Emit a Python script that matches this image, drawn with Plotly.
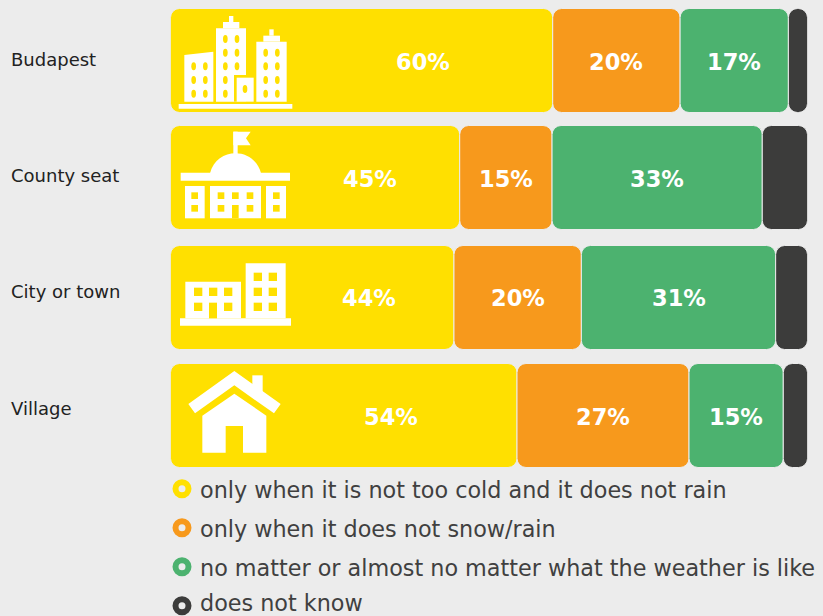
import plotly.graph_objects as go

categories = ["Budapest", "County seat", "City or town", "Village"]
series_names = [
    "only when it is not too cold and it does not rain",
    "only when it does not snow/rain",
    "no matter or almost no matter what the weather is like",
    "does not know",
]
cold_rain = [60, 45.4, 44.5, 54.4]
snow_rain = [20, 14.5, 20, 27]
any_weather = [17, 33, 30.5, 14.8]
unknown = [3, 7.1, 5, 3.8]
cold_rain_labels = ["60%", "45%", "44%", "54%"]
snow_rain_labels = ["20%", "15%", "20%", "27%"]
any_weather_labels = ["17%", "33%", "31%", "15%"]

BG = "#ececec"
COLORS = ["#ffe000", "#f7991c", "#4cb26f", "#3c3c3b"]
TEXT = "#404040"
W, H = 823, 616
VALUE_FONT = dict(family="DejaVu Sans", size=22.5, color="white", weight="bold")
LABEL_FONT = "DejaVu Sans"

# pixel layout of the rows (separate from the data)
ROW_PX = 118.33
BAR_PX = 104
row_nudge_px = [0, -1.33, 0.33, 0]
label_y_px = [59, 175, 291, 408]
yellow_shift_px = [61, 55, 57, 47]
value_yshift_px = [-1, 0, -1, -1]
legend_y_px = [488.7, 527.7, 566.7, 605.7]
legend_text_dy_px = [1, 1, 1, -3]

series = [cold_rain, snow_rain, any_weather, unknown]
labels = [cold_rain_labels, snow_rain_labels, any_weather_labels, None]
offsets = [(-BAR_PX / 2 + n) / ROW_PX for n in row_nudge_px]

fig = go.Figure()
base = [0, 0, 0, 0]
annotations = []
for idx, (name, vals, color, text) in enumerate(zip(series_names, series, COLORS, labels)):
    fig.add_bar(
        name=name, y=categories, x=vals, base=list(base), orientation="h",
        width=BAR_PX / ROW_PX, offset=offsets,
        marker=dict(color=color, cornerradius=9, line=dict(color=BG, width=1)),
        textposition="none", showlegend=False, hoverinfo="x+y+name",
    )
    if text:
        for k, cat in enumerate(categories):
            annotations.append(dict(
                x=base[k] + vals[k] / 2, y=cat, xref="x", yref="y", text=text[k], showarrow=False,
                xshift=yellow_shift_px[k] if idx == 0 else 0, yshift=value_yshift_px[k], font=VALUE_FONT,
            ))
    base = [b + v for b, v in zip(base, vals)]

# legend rings on a pixel overlay
for name, color, y in zip(series_names, COLORS, legend_y_px):
    fig.add_scatter(
        x=[182], y=[y], xaxis="x2", yaxis="y2", mode="markers", showlegend=False,
        marker=dict(size=13, color=BG, line=dict(color=color, width=6)), hoverinfo="skip",
    )

for cat, ly in zip(categories, label_y_px):
    annotations.append(dict(x=9, y=ly, xref="x2", yref="y2", text=cat, showarrow=False,
                            xanchor="left", font=dict(family=LABEL_FONT, size=18, color="#222222")))
for name, y, dy in zip(series_names, legend_y_px, legend_text_dy_px):
    annotations.append(dict(x=198, y=y + dy, xref="x2", yref="y2", text=name, showarrow=False,
                            xanchor="left", font=dict(family=LABEL_FONT, size=22.3, color=TEXT)))


# ---- white pictograms, drawn in zoom-crop units ----
shapes = []


def conv(ox, oy):
    return lambda x, y: (ox + x / 3, oy + y / 3)


def add_path(c, pts, fill="white"):
    p = [c(*q) for q in pts]
    d = "M " + " L ".join(f"{x:.2f},{y:.2f}" for x, y in p) + " Z"
    shapes.append(dict(type="path", path=d, xref="x2", yref="y2", fillcolor=fill,
                       line=dict(width=0), layer="above"))


def rect(c, x0, y0, x1, y1, fill="white"):
    add_path(c, [(x0, y0), (x1, y0), (x1, y1), (x0, y1)], fill)


def pill(c, xc, yc, w=14, h=24, fill=COLORS[0]):
    x0, y0 = c(xc - w / 2, yc - h / 2)
    x1, y1 = c(xc + w / 2, yc + h / 2)
    shapes.append(dict(type="circle", x0=x0, y0=y0, x1=x1, y1=y1, xref="x2", yref="y2",
                       fillcolor=fill, line=dict(width=0), layer="above"))


# Budapest skyline
c = conv(160, 0)
rect(c, 56, 312, 397, 326)
add_path(c, [(73, 165), (160, 155), (160, 305), (73, 305)])
rect(c, 168, 85, 258, 305)
rect(c, 189, 66, 238, 85)
rect(c, 207, 48, 220, 66)
rect(c, 289, 125, 380, 305)
rect(c, 310, 107, 360, 125)
rect(c, 328, 88, 341, 107)
rect(c, 222, 225, 288, 305, COLORS[0])
rect(c, 230, 233, 281, 305)
for xc in (101, 136):
    for yc in (199, 240, 281):
        pill(c, xc, yc)
for xc, yc in [(196, 117), (231, 117), (196, 158), (231, 158), (196, 199), (231, 199), (196, 240), (196, 281)]:
    pill(c, xc, yc)
for xc in (317, 352):
    for yc in (158, 199, 240, 281):
        pill(c, xc, yc)
pill(c, 255, 267)

# County seat hall
rect(c, 220, 395, 233, 470)
add_path(c, [(220, 395), (272, 395), (258, 415), (272, 436), (220, 436)])
p0, p1, p2, p3 = c(150, 520), c(170, 440), c(283, 440), c(303, 520)
shapes.append(dict(type="path", xref="x2", yref="y2", fillcolor="white", line=dict(width=0), layer="above",
                   path=f"M {p0[0]},{p0[1]} C {p1[0]},{p1[1]} {p2[0]},{p2[1]} {p3[0]},{p3[1]} Z"))
rect(c, 62, 518, 390, 542)
rect(c, 75, 558, 134, 655)
rect(c, 150, 558, 303, 655)
rect(c, 318, 558, 378, 655)
for x0 in (94, 173, 216, 260, 339):
    rect(c, x0, 577, x0 + 20, 597, COLORS[0])
for x0 in (94, 173, 260, 339):
    rect(c, x0, 615, x0 + 20, 635, COLORS[0])
rect(c, 216, 615, 236, 655, COLORS[0])

# City or town blocks
c = conv(160, 240)
rect(c, 60, 235, 393, 257)
rect(c, 76, 125, 243, 235)
rect(c, 257, 70, 377, 235)
for x0 in (102, 147, 192):
    rect(c, x0, 143, x0 + 25, 168, COLORS[0])
for x0 in (102, 192):
    rect(c, x0, 188, x0 + 25, 213, COLORS[0])
rect(c, 147, 188, 171, 235, COLORS[0])
for x0 in (281, 326):
    for y0 in (98, 143, 188):
        rect(c, x0, y0, x0 + 25, y0 + 25, COLORS[0])

# Village house
rect(c, 277, 406, 308, 470)
add_path(c, [(223, 393), (362, 492), (342, 520), (223, 436), (105, 520), (85, 492)])
add_path(c, [(127, 527), (223, 461), (319, 527), (319, 638), (249, 638), (249, 558),
             (197, 558), (197, 638), (127, 638)])

fig.update_layout(
    width=W, height=H, margin=dict(l=0, r=0, t=0, b=0),
    paper_bgcolor=BG, plot_bgcolor="rgba(0,0,0,0)", barmode="overlay", showlegend=False,
    xaxis=dict(domain=[170.5 / W, 807.5 / W], range=[0, 100], visible=False, fixedrange=True),
    yaxis=dict(domain=[1 - 474.67 / H, 1 - 1.33 / H], type="category", categoryorder="array",
               categoryarray=categories, range=[3.5, -0.5], visible=False, fixedrange=True),
    xaxis2=dict(domain=[0, 1], range=[0, W], visible=False, anchor="y2", fixedrange=True),
    yaxis2=dict(domain=[0, 1], range=[H, 0], visible=False, anchor="x2", fixedrange=True),
    annotations=annotations, shapes=shapes,
)
fig.write_html("out.html", config={"displayModeBar": False},
               post_script="document.documentElement.style.overflow='hidden';document.body.style.margin='0';document.body.style.background='#ececec';")
